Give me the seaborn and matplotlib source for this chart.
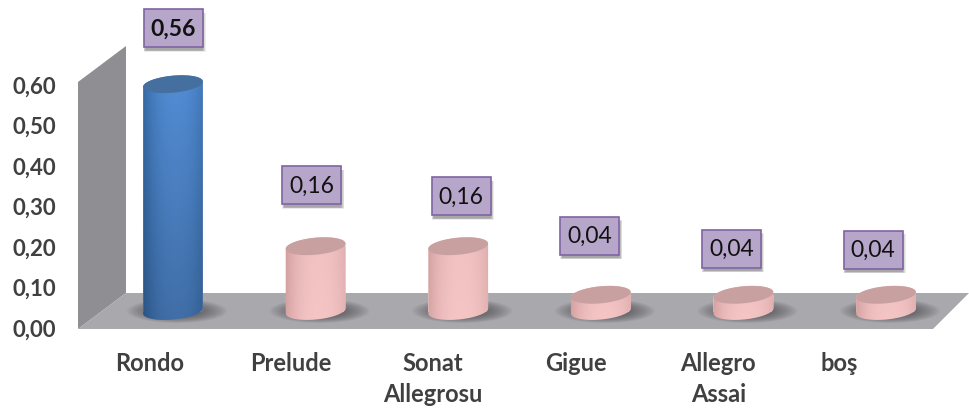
import numpy as np
import pandas as pd
import matplotlib
matplotlib.use("Agg")
import matplotlib.pyplot as plt
import seaborn as sns
from matplotlib.patches import Polygon, Rectangle, Ellipse
from matplotlib.path import Path
from matplotlib.transforms import IdentityTransform, ScaledTranslation
from matplotlib.colors import to_rgb

categories = ["Rondo", "Prelude", "Sonat\nAllegrosu", "Gigue", "Allegro\nAssai", "boş"]
values = [0.56, 0.16, 0.16, 0.04, 0.04, 0.04]
value_labels = ["0,56", "0,16", "0,16", "0,04", "0,04", "0,04"]
y_ticks = [0.0, 0.1, 0.2, 0.3, 0.4, 0.5, 0.6]
y_tick_labels = ["0,00", "0,10", "0,20", "0,30", "0,40", "0,50", "0,60"]

# style / layout
W, H = 969, 409
AX_L, AX_B_PX = 78, 328
PX_PER_UNIT = 405.0
PX_PER_CAT = 142.6
X0_PX = 173
BASE_PX = 17          # 3-D lift of bar bases above the axis line
label_offsets = [(0, 56), (-4, 61), (3, 50), (-11, 59), (-12, 46), (-13, 45)]
xlabel_shift = [-23, -25, -25, -25, -25, -47]
ROW = "#404040"

sns.set_theme(style="white")
plt.rcParams["font.family"] = ["Lato", "DejaVu Sans"]

fig = plt.figure(figsize=(W / 100, H / 100), dpi=100)
ax = fig.add_axes([AX_L / W, (H - AX_B_PX) / H, (W - AX_L) / W, AX_B_PX / H])
ax.patch.set_alpha(0)

df = pd.DataFrame({"cat": categories, "val": values})
sns.barplot(data=df, x="cat", y="val", width=60 / PX_PER_CAT, color="#f2bfbf", ax=ax,
            saturation=1, errorbar=None, zorder=5)
ax.set_xlim((AX_L - X0_PX) / PX_PER_CAT, (W - X0_PX) / PX_PER_CAT)
ax.set_ylim(0, AX_B_PX / PX_PER_UNIT)
ax.set_xlabel("")
ax.set_ylabel("")
sns.despine(ax=ax, left=True, bottom=True)
ax.set_yticks(y_ticks, y_tick_labels, fontsize=16, fontweight="bold", color=ROW)
ax.set_xticks(range(len(categories)), categories, fontsize=17, fontweight="bold", color=ROW,
              linespacing=1.42, va="top")
ax.tick_params(axis="y", length=0, pad=15.5)
ax.tick_params(axis="x", length=0, pad=17)
for lab, dx in zip(ax.get_xticklabels(), xlabel_shift):
    lab.set_transform(lab.get_transform() + ScaledTranslation(dx / 100, 0, fig.dpi_scale_trans))


def px(x, y):
    """Image pixel (y down) to display coordinates."""
    return (x, H - y)


pix = IdentityTransform()
# wall and floor
ax.add_patch(Polygon([px(78, 82), px(126, 46), px(126, 293), px(78, 329)], closed=True,
                     fc="#8f8e93", ec="none", transform=pix, zorder=1, clip_on=False))
ax.add_patch(Polygon([px(78, 329), px(126, 293), px(969, 293), px(933, 329)], closed=True,
                     fc="#a9a8ad", ec="none", transform=pix, zorder=1.5, clip_on=False))

TILT = np.deg2rad(5.5)
A, B = 30.0, 8.5


def ell(cx, cy, t):
    x = A * np.cos(t) * np.cos(TILT) - B * np.sin(t) * np.sin(TILT)
    y = A * np.cos(t) * np.sin(TILT) + B * np.sin(t) * np.cos(TILT)
    return np.column_stack([cx + x, cy + y])


t0 = np.arctan2(-B * np.sin(TILT), A * np.cos(TILT))
base_data = BASE_PX / PX_PER_UNIT
styles = [
    dict(edge="#2f5f96", mid="#4b80c2", lid="#456f9f", top_light=1.1, bot=0.86),
] + [dict(edge="#d6a2a2", mid="#f5c5c5", lid="#c9a0a0", top_light=0.98, bot=1.0)] * 5

for i, (bar, st, val) in enumerate(zip(ax.patches, styles, values)):
    bar.set_y(base_data)
    cx_d = bar.get_x() + bar.get_width() / 2
    cx, yb = ax.transData.transform((cx_d, base_data))
    _, yt = ax.transData.transform((cx_d, base_data + val))

    # soft floor shadow
    for k in range(26):
        f = 1 - k / 27
        ax.add_patch(Ellipse((cx + 4, yb), 100 * f, 24 * f, fc="#3c3b40", ec="none",
                             alpha=0.05, transform=pix, zorder=2))

    # cylinder body: hull of both end ellipses
    up = ell(cx, yt, np.linspace(t0, t0 + np.pi, 60))
    low = ell(cx, yb, np.linspace(t0 + np.pi, t0 + 2 * np.pi, 60))
    verts = np.vstack([up, low, up[:1]])
    body = Path(verts, closed=False)
    bar.set_clip_path(body, pix)

    u = np.linspace(-1, 1, 80)
    shade = np.clip(np.abs(u - 0.1) ** 2.4, 0, 1)
    edge, mid = np.array(to_rgb(st["edge"])), np.array(to_rgb(st["mid"]))
    row = mid[None, :] * (1 - shade[:, None]) + edge[None, :] * shade[:, None]
    v = np.linspace(st["top_light"], st["bot"], 40)[:, None, None]
    img = np.clip(row[None, :, :] * v, 0, 1)
    x0, y0 = ax.transData.inverted().transform((cx - 34, yb - 12))
    x1, y1 = ax.transData.inverted().transform((cx + 34, yt + 12))
    im = ax.imshow(img, extent=(x0, x1, y0, y1), aspect="auto", origin="upper", zorder=6,
                   interpolation="bilinear")
    im.set_clip_path(body, pix)

    lid = ell(cx, yt, np.linspace(0, 2 * np.pi, 90))
    ax.add_patch(Polygon(lid, closed=True, fc=st["lid"], ec="none", transform=pix, zorder=7))

    # value label box with soft shadow
    dx, dy = label_offsets[i]
    bx, by = cx + dx, yt + dy
    for k in range(6):
        ax.add_patch(Rectangle((bx - 29.5 + k * 0.4, by - 23.5 + k * 0.3), 62 - k, 39 - k * 0.4,
                               fc="#55545a", ec="none", alpha=0.11, transform=pix, zorder=8, clip_on=False))
    ax.add_patch(Rectangle((bx - 29.5, by - 19), 59, 38, fc="#b6a6ca", ec="#8064a2", lw=1.2,
                           transform=pix, zorder=9, clip_on=False))
    ax.annotate(value_labels[i], xy=(i, base_data + val), xycoords="data",
                xytext=(dx * 0.72, dy * 0.72 - 0.5), textcoords="offset points",
                ha="center", va="center", fontsize=16.5, color="#111111",
                fontweight="bold" if i == 0 else "normal", zorder=10, annotation_clip=False)

ax.set_xlim((AX_L - X0_PX) / PX_PER_CAT, (W - X0_PX) / PX_PER_CAT)
ax.set_ylim(0, AX_B_PX / PX_PER_UNIT)
fig.savefig("out.png", dpi=100, facecolor="white")
